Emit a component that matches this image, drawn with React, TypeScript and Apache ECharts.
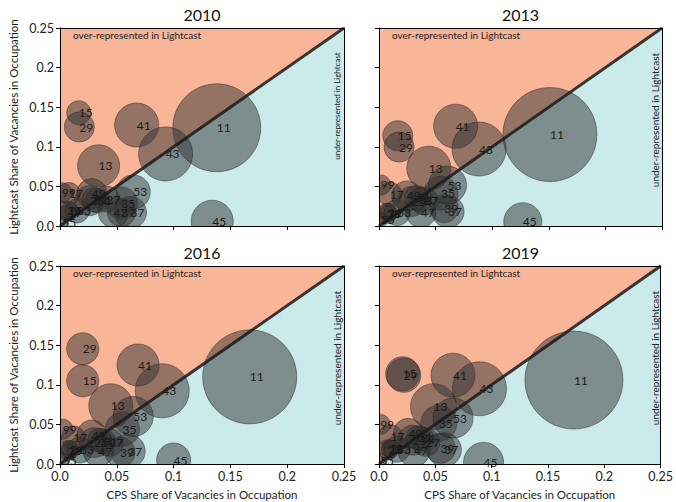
import React, { useEffect, useRef } from 'react';
import * as echarts from 'echarts';

const years = ['2010', '2013', '2016', '2019'];
const codes = ['11', '13', '15', '17', '19', '21', '23', '25', '27', '29', '31', '33', '35', '37', '39', '41', '43', '45', '47', '49', '51', '53', '55', '99'];

// CPS share (x), Lightcast share (y), bubble weight (area ~ weight)
const cps2010 = [0.138, 0.034, 0.0165, 0.008, 0.007, 0.008, 0.006, 0.026, 0.041, 0.017, 0.033, 0.015, 0.054, 0.062, 0.054, 0.0675, 0.093, 0.134, 0.047, 0.028, 0.030, 0.0645, 0.002, 0.0015];
const lc2010 = [0.124, 0.076, 0.143, 0.041, 0.017, 0.019, 0.019, 0.032, 0.034, 0.125, 0.032, 0.019, 0.029, 0.017, 0.017, 0.1275, 0.091, 0.006, 0.017, 0.041, 0.033, 0.043, 0.004, 0.042];
const wt2010 = [0.1600, 0.0364, 0.0119, 0.0100, 0.0053, 0.0067, 0.0083, 0.0186, 0.0140, 0.0186, 0.0119, 0.0119, 0.0212, 0.0212, 0.0162, 0.0400, 0.0602, 0.0364, 0.0186, 0.0186, 0.0119, 0.0239, 0.0030, 0.0083];

const cps2013 = [0.151, 0.044, 0.0166, 0.0097, 0.008, 0.008, 0.007, 0.029, 0.040, 0.0177, 0.036, 0.016, 0.0548, 0.061, 0.0577, 0.0677, 0.0884, 0.127, 0.037, 0.0245, 0.033, 0.0605, 0.0015, 0.0015];
const lc2013 = [0.1155, 0.073, 0.114, 0.040, 0.016, 0.017, 0.016, 0.031, 0.0316, 0.0997, 0.033, 0.017, 0.0414, 0.018, 0.022, 0.126, 0.0972, 0.0054, 0.017, 0.038, 0.036, 0.0517, 0.0076, 0.0518];
const wt2013 = [0.1826, 0.0400, 0.0186, 0.0119, 0.0053, 0.0067, 0.0083, 0.0186, 0.0162, 0.0186, 0.0119, 0.0140, 0.0239, 0.0212, 0.0162, 0.0400, 0.0602, 0.0298, 0.0186, 0.0186, 0.0119, 0.0298, 0.0040, 0.0083];

const cps2016 = [0.167, 0.0447, 0.020, 0.0117, 0.008, 0.009, 0.007, 0.030, 0.0434, 0.020, 0.038, 0.0176, 0.055, 0.060, 0.0528, 0.0687, 0.090, 0.100, 0.0337, 0.028, 0.035, 0.0645, 0.0024, 0.0024];
const lc2016 = [0.110, 0.0735, 0.105, 0.033, 0.017, 0.018, 0.017, 0.027, 0.027, 0.1455, 0.029, 0.0177, 0.044, 0.016, 0.0147, 0.125, 0.0924, 0.005, 0.0156, 0.0366, 0.030, 0.060, 0.005, 0.044];
const wt2016 = [0.1826, 0.0400, 0.0212, 0.0119, 0.0053, 0.0067, 0.0083, 0.0186, 0.0162, 0.0212, 0.0119, 0.0140, 0.0239, 0.0239, 0.0186, 0.0364, 0.0602, 0.0239, 0.0186, 0.0186, 0.0119, 0.0331, 0.0040, 0.0083];

const cps2019 = [0.173, 0.0484, 0.021, 0.0103, 0.009, 0.010, 0.008, 0.030, 0.0415, 0.022, 0.038, 0.016, 0.053, 0.058, 0.0545, 0.0657, 0.0892, 0.0928, 0.031, 0.026, 0.035, 0.0657, 0.001, 0.001];
const lc2019 = [0.106, 0.0724, 0.114, 0.0345, 0.019, 0.019, 0.018, 0.030, 0.0274, 0.112, 0.032, 0.0186, 0.0513, 0.018, 0.0198, 0.112, 0.095, 0.002, 0.0168, 0.0387, 0.033, 0.058, 0.005, 0.050];
const wt2019 = [0.1984, 0.0437, 0.0239, 0.0119, 0.0053, 0.0067, 0.0083, 0.0186, 0.0162, 0.0239, 0.0119, 0.0140, 0.0268, 0.0239, 0.0186, 0.0400, 0.0602, 0.0331, 0.0212, 0.0186, 0.0119, 0.0331, 0.0040, 0.0083];

const axisMin = 0;
const axisMax = 0.25;
const axisStep = 0.05;
const diagonal = [[0, 0], [0.25, 0.25]];

const panelX = [cps2010, cps2013, cps2016, cps2019];
const panelY = [lc2010, lc2013, lc2016, lc2019];
const panelW = [wt2010, wt2013, wt2016, wt2019];

const FONT = 'Lato, "DejaVu Sans", sans-serif';

export default function App() {
  const ref = useRef<HTMLDivElement>(null);
  useEffect(() => {
    const chart = echarts.init(ref.current!, null, { renderer: 'svg' });
    const lefts = [60, 379, 60, 379];
    const tops = [28, 28, 266, 266];
    const widths = [284, 283, 284, 283];
    const H = 198;
    const fmt = (v: number) => (v === 0 ? '0.0' : String(+v.toFixed(2)));

    const grid = lefts.map((l, i) => ({ left: l, top: tops[i], width: widths[i], height: H, containLabel: false }));
    const xAxis: any[] = [];
    const yAxis: any[] = [];
    for (let i = 0; i < 4; i++) {
      xAxis.push({
        gridIndex: i, type: 'value', min: axisMin, max: axisMax, interval: axisStep,
        axisLine: { show: true, onZero: false, lineStyle: { color: '#000', width: 1 } },
        axisTick: { show: true, length: 4, lineStyle: { color: '#000' } },
        axisLabel: { show: i >= 2, formatter: fmt, fontSize: 12.5, color: '#222', margin: 6, fontFamily: FONT, showMaxLabel: true, showMinLabel: true },
        splitLine: { show: false },
        name: i >= 2 ? 'CPS Share of Vacancies in Occupation' : '',
        nameLocation: 'middle', nameGap: 24,
        nameTextStyle: { fontSize: 11.5, color: '#222', fontFamily: FONT },
        z: 10,
      });
      yAxis.push({
        gridIndex: i, type: 'value', min: axisMin, max: axisMax, interval: axisStep,
        axisLine: { show: true, onZero: false, lineStyle: { color: '#000', width: 1 } },
        axisTick: { show: true, length: 4, lineStyle: { color: '#000' } },
        axisLabel: { show: i % 2 === 0, formatter: fmt, fontSize: 12.5, color: '#222', margin: 6, fontFamily: FONT, showMaxLabel: true, showMinLabel: true },
        splitLine: { show: false },
        name: i % 2 === 0 ? 'Lightcast Share of Vacancies in Occupation' : '',
        nameLocation: 'middle', nameGap: 41,
        nameTextStyle: { fontSize: 11.5, color: '#222', fontFamily: FONT },
        z: 10,
      });
    }
    // frame (top / right)
    for (let i = 0; i < 4; i++) {
      xAxis.push({
        gridIndex: i, type: 'value', min: axisMin, max: axisMax, position: 'top',
        axisLine: { show: true, onZero: false, lineStyle: { color: '#000', width: 1 } },
        axisTick: { show: false }, axisLabel: { show: false }, splitLine: { show: false }, z: 10,
      });
      yAxis.push({
        gridIndex: i, type: 'value', min: axisMin, max: axisMax, position: 'right',
        axisLine: { show: true, onZero: false, lineStyle: { color: '#000', width: 1 } },
        axisTick: { show: false }, axisLabel: { show: false }, splitLine: { show: false }, z: 10,
      });
    }

    const series: any[] = [];
    for (let i = 0; i < 4; i++) {
      const xs = panelX[i], ys = panelY[i], ws = panelW[i];
      const data = codes.map((_, k) => [xs[k], ys[k], ws[k]]);
      series.push({
        type: 'line', xAxisIndex: i, yAxisIndex: i, data: diagonal, symbol: 'none', silent: true,
        lineStyle: { width: 0 }, areaStyle: { color: '#f8b597', opacity: 1, origin: 'end' }, z: 1,
      });
      series.push({
        type: 'line', xAxisIndex: i, yAxisIndex: i, data: diagonal, symbol: 'none', silent: true,
        lineStyle: { width: 0 }, areaStyle: { color: '#cbeaea', opacity: 1, origin: 'start' }, z: 1,
      });
      series.push({
        type: 'custom', xAxisIndex: i, yAxisIndex: i, data, clip: true, silent: true, z: 2,
        encode: { x: 0, y: 1 },
        renderItem: (params: any, api: any) => {
          const c = api.coord([api.value(0), api.value(1)]);
          const r = Math.sqrt(api.value(2)) * 110;
          return {
            type: 'circle', shape: { cx: c[0], cy: c[1], r },
            style: { fill: 'rgba(50,50,50,0.5)', stroke: 'rgba(30,30,30,0.45)', lineWidth: 1 },
          };
        },
      });
      series.push({
        type: 'line', xAxisIndex: i, yAxisIndex: i, data: diagonal, symbol: 'none', silent: true,
        lineStyle: { width: 3, color: 'rgba(25,25,25,0.85)' }, z: 3,
      });
      series.push({
        type: 'custom', xAxisIndex: i, yAxisIndex: i, data, clip: false, silent: true, z: 5,
        encode: { x: 0, y: 1 },
        renderItem: (params: any, api: any) => {
          const c = api.coord([api.value(0), api.value(1)]);
          return {
            type: 'text', x: c[0], y: c[1],
            style: { text: codes[params.dataIndex], fill: '#1a1a1a', font: '12px ' + FONT, align: 'left', verticalAlign: 'middle' },
          };
        },
      });
    }

    const graphic: any[] = [];
    for (let i = 0; i < 4; i++) {
      const l = lefts[i], t = tops[i], w = widths[i];
      graphic.push({
        type: 'text', x: l + w / 2, y: t - 14, z: 20,
        style: { text: years[i], font: 'normal 400 16px ' + FONT, fill: '#111', align: 'center', verticalAlign: 'middle' },
      });
      graphic.push({
        type: 'text', x: l + 13, y: t + 7, z: 20,
        style: { text: 'over-represented in Lightcast', font: '10px ' + FONT, fill: '#222', align: 'left', verticalAlign: 'middle' },
      });
      graphic.push({
        type: 'text', x: l + w - 7, y: t + (i === 0 ? 78 : 92), rotation: Math.PI / 2, z: 20,
        style: { text: 'under-represented in Lightcast', font: (i === 0 ? '8px ' : '10px ') + FONT, fill: '#222', align: 'center', verticalAlign: 'middle' },
      });
    }

    chart.setOption({
      animation: false,
      backgroundColor: '#fff',
      grid, xAxis, yAxis, series, graphic,
    });
    return () => chart.dispose();
  }, []);
  return <div ref={ref} style={{ position: 'absolute', left: 0, top: 0, width: 676, height: 502 }} />;
}
